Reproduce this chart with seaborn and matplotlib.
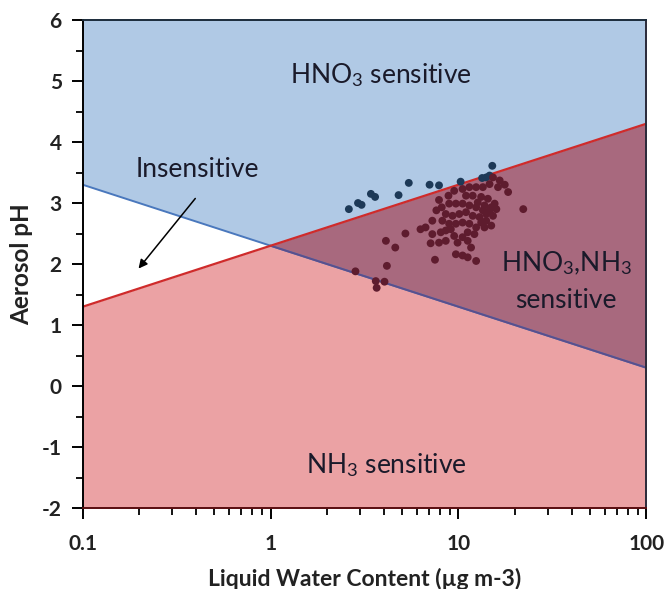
import numpy as np
import pandas as pd
import matplotlib
matplotlib.use("Agg")
import matplotlib.pyplot as plt
from matplotlib.ticker import FixedLocator, MultipleLocator, LogLocator, NullFormatter
import seaborn as sns

# ---- data ----
boundary_x = [0.1, 1.0, 100.0]
hno3_line = [3.3, 2.3, 0.3]     # blue boundary
nh3_line = [1.3, 2.3, 4.3]      # red boundary

navy_x = [2.61, 2.92, 3.05, 3.42, 3.60, 4.80, 5.44, 7.02, 7.88, 10.27, 13.37, 15.14, 14.05, 14.64]
navy_y = [2.90, 3.00, 2.97, 3.15, 3.10, 3.13, 3.33, 3.30, 3.29, 3.35, 3.41, 3.61, 3.42, 3.45]

maroon_x = [15.27, 16.58, 17.64, 18.38, 22.13, 16.24, 14.64, 13.49, 12.42, 11.43, 10.52, 9.49, 8.85,
            7.88, 10.97, 11.91, 13.21, 14.34, 15.58, 15.91, 14.64, 13.49, 12.42, 11.43, 10.52, 9.69,
            8.92, 8.15, 7.63, 8.56, 9.30, 10.10, 10.97, 11.91, 12.94, 14.05, 14.95, 13.76, 12.42,
            11.43, 10.52, 9.69, 8.92, 8.21, 7.26, 6.68, 6.28, 7.26, 8.05, 8.56, 9.11, 9.49, 8.56,
            7.88, 7.11, 5.22, 4.61, 4.11, 9.89, 11.67, 9.69, 10.52, 11.20, 12.42, 7.50, 4.16, 2.83,
            3.63, 4.04, 3.67, 12.67, 13.76, 14.95, 14.05, 15.27, 13.21, 12.16, 11.20, 10.52, 11.20]
maroon_y = [3.42, 3.37, 3.30, 3.18, 2.90, 3.26, 3.31, 3.26, 3.26, 3.26, 3.23, 3.20, 3.12,
            3.05, 3.12, 3.12, 3.10, 3.07, 2.99, 2.90, 2.88, 2.88, 2.93, 2.96, 2.99, 2.99,
            2.99, 2.93, 2.88, 2.82, 2.79, 2.82, 2.85, 2.79, 2.77, 2.71, 2.63, 2.60, 2.60,
            2.66, 2.68, 2.66, 2.66, 2.71, 2.71, 2.60, 2.57, 2.49, 2.52, 2.55, 2.57, 2.46, 2.38,
            2.35, 2.34, 2.50, 2.27, 2.38, 2.35, 2.27, 2.16, 2.14, 2.11, 2.05, 2.07, 1.97, 1.88,
            1.72, 1.71, 1.61, 3.01, 2.96, 2.93, 2.82, 2.79, 2.68, 2.49, 2.52, 2.44, 2.38]

x_ticks = [0.1, 1, 10, 100]
x_ticklabels = ["0.1", "1", "10", "100"]
y_ticks = [-2, -1, 0, 1, 2, 3, 4, 5, 6]

# ---- style ----
sns.set_style("ticks")
plt.rcParams['font.family'] = ['Lato', 'DejaVu Sans']
plt.rcParams['mathtext.fontset'] = 'custom'
plt.rcParams['mathtext.rm'] = 'Lato'
plt.rcParams['mathtext.it'] = 'Lato:italic'
plt.rcParams['mathtext.bf'] = 'Lato:bold'
plt.rcParams['axes.unicode_minus'] = False

BLUE = "#b0c9e5"
RED = "#eba2a4"
PURPLE = "#a8697e"

fig = plt.figure(figsize=(6.67, 5.89), dpi=100)
ax = fig.add_axes([0.124, 0.1375, 0.845, 0.8285])
ax.set_xscale("log")
ax.set_xlim(0.1, 100)
ax.set_ylim(-2, 6)

bx = np.array(boundary_x)
hb = np.array(hno3_line)
nb = np.array(nh3_line)
ax.fill_between(bx, hb, 6, color=BLUE, lw=0, zorder=1)
ax.fill_between(bx, -2, nb, color=RED, lw=0, zorder=1)
ax.fill_between(bx, hb, nb, where=nb >= hb, interpolate=True, color=PURPLE, lw=0, zorder=2)

lines = pd.DataFrame({"x": boundary_x * 2,
                      "y": hno3_line + nh3_line,
                      "kind": ["HNO3"] * 3 + ["NH3"] * 3})
sns.lineplot(data=lines[lines.kind == "HNO3"], x="x", y="y", color="#4a78bd", lw=1.4, ax=ax, zorder=3)
sns.lineplot(data=lines[lines.kind == "NH3"], x="x", y="y", color="#cf2b2b", lw=1.6, ax=ax, zorder=4)
# darker segment of blue line inside overlap
ax.plot(boundary_x[1:], hno3_line[1:], color="#5a4f8c", lw=1.4, zorder=3)

sns.scatterplot(x=navy_x, y=navy_y, color="#1d3957", s=32, edgecolor="none", ax=ax, zorder=5)
sns.scatterplot(x=maroon_x, y=maroon_y, color="#5e1c2e", s=32, edgecolor="none", ax=ax, zorder=5)

# annotations
tc = "#1a1a2a"
fs = 19
ax.text(3.85, 5.10, r"HNO$_{\mathregular{3}}$ sensitive", fontsize=fs, ha="center", va="center", color=tc, zorder=6)
ax.text(0.41, 3.55, "Insensitive", fontsize=fs, ha="center", va="center", color=tc, zorder=6)
ax.text(37.4, 2.02, r"HNO$_{\mathregular{3}}$,NH$_{\mathregular{3}}$", fontsize=fs, ha="center", va="center", color=tc, zorder=6)
ax.text(37.4, 1.40, "sensitive", fontsize=fs, ha="center", va="center", color=tc, zorder=6)
ax.text(4.15, -1.30, r"NH$_{\mathregular{3}}$ sensitive", fontsize=fs, ha="center", va="center", color=tc, zorder=6)
ax.annotate("", xy=(0.194, 1.89), xytext=(0.406, 3.11),
            arrowprops=dict(arrowstyle="-|>", color="black", lw=1.1, mutation_scale=13), zorder=6)

# axes
ax.xaxis.set_major_locator(FixedLocator(x_ticks))
ax.set_xticklabels(x_ticklabels)
ax.xaxis.set_minor_locator(LogLocator(base=10, subs=np.arange(2, 10)))
ax.xaxis.set_minor_formatter(NullFormatter())
ax.yaxis.set_major_locator(FixedLocator(y_ticks))
ax.yaxis.set_minor_locator(MultipleLocator(0.5))
ax.tick_params(axis="both", which="major", direction="out", length=8, width=1.4,
               labelsize=15, pad=7, color="black")
ax.tick_params(axis="x", which="major", pad=11)
ax.tick_params(axis="both", which="minor", direction="out", length=5, width=1.3, color="black")
for lab in ax.get_xticklabels() + ax.get_yticklabels():
    lab.set_fontweight("bold")
    lab.set_color("#222222")

for side in ["left", "top", "right", "bottom"]:
    ax.spines[side].set_visible(True)
    ax.spines[side].set_linewidth(1.4)
    ax.spines[side].set_zorder(7)
ax.spines["left"].set_color("black")
ax.spines["bottom"].set_color("#5a0d10")
ax.spines["top"].set_color("#1a2a3a")
ax.spines["right"].set_color("#2a2a3a")

ax.set_xlabel("Liquid Water Content (µg m-3)", fontsize=16.5, fontweight="bold", color="#222222", labelpad=10)
ax.set_ylabel("Aerosol pH", fontsize=17.5, fontweight="bold", color="#222222", labelpad=6)

fig.savefig("out.png", dpi=100)
